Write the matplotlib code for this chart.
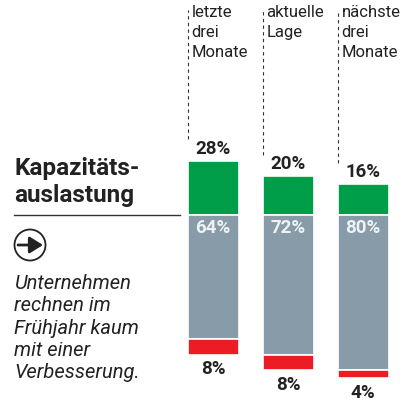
import matplotlib.pyplot as plt
from matplotlib.patches import Circle

# data
periods = ["letzte\ndrei\nMonate", "aktuelle\nLage", "nächste\ndrei\nMonate"]
higher = [28, 20, 16]
same = [64, 72, 80]
lower = [8, 8, 4]

title_lines = ["Kapazitäts-", "auslastung"]
note_lines = ["Unternehmen", "rechnen im", "Frühjahr kaum", "mit einer", "Verbesserung."]

GREEN = "#009e49"
GRAY = "#879ca8"
RED = "#ec1c24"
DARK = "#222222"

plt.rcParams["font.family"] = ["Roboto", "DejaVu Sans"]

W, H = 401, 403
fig = plt.figure(figsize=(W / 100, H / 100), dpi=100)

# bar axes: x in category units (75 px apart), y in percent (1.94 px per %)
px_per_pct = 1.94
base_px = 215
ax = fig.add_axes([0, 0, 1, 1])
ax.set_xlim(-213 / 75, (W - 213) / 75)
ax.set_ylim(-(H - base_px) / px_per_pct, base_px / px_per_pct)
ax.axis("off")
ax.patch.set_visible(False)

x = list(range(len(periods)))
width = 0.68
ax.bar(x, higher, width, color=GREEN, edgecolor="white", linewidth=1.2)
ax.bar(x, [-v for v in same], width, color=GRAY, edgecolor="white", linewidth=1.2)
ax.bar(x, [-v for v in lower], width, bottom=[-v for v in same], color=RED,
       edgecolor="white", linewidth=1.2)

top_y = ax.get_ylim()[1]
for i in x:
    left = i - width / 2
    ax.plot([left, left], [higher[i] + 11, top_y - 5], color="#333333",
            lw=0.8, ls=(0, (3, 3)))
    ax.annotate(f"{higher[i]}%", (i, higher[i]), xytext=(0, 8.5),
                textcoords="offset points", ha="center", va="center",
                fontsize=13.5, fontweight="bold", color=DARK)
    ax.annotate(f"{same[i]}%", (i, 0), xytext=(0, -9.5),
                textcoords="offset points", ha="center", va="center",
                fontsize=13.5, fontweight="bold", color="#eef2f4")
    ax.annotate(f"{lower[i]}%", (i, -(same[i] + lower[i])), xytext=(0, -10.5),
                textcoords="offset points", ha="center", va="center",
                fontsize=13.5, fontweight="bold", color=DARK)
    # header text next to the dashed line
    for j, line in enumerate(periods[i].split("\n")):
        ax.annotate(line, (left, top_y), xytext=(4, -17 - j * 20),
                    xycoords="data", textcoords="offset pixels",
                    ha="left", va="baseline", fontsize=12, color=DARK)

# overlay in pixel coordinates for the left-hand text block
ov = fig.add_axes([0, 0, 1, 1])
ov.set_xlim(0, W)
ov.set_ylim(H, 0)
ov.axis("off")
ov.patch.set_visible(False)

for j, line in enumerate(title_lines):
    ov.text(14, 175 + j * 27, line, ha="left", va="baseline",
            fontsize=17.5, fontweight="bold", color=DARK)
ov.plot([14, 180], [215, 215], color="#333333", lw=1)

ov.add_patch(Circle((30, 245), 15.5, fill=False, ec=DARK, lw=1.3))
ov.annotate("", xy=(43, 245), xytext=(18, 245),
            arrowprops=dict(arrowstyle="-|>,head_length=0.8,head_width=0.5",
                            color=DARK, lw=2.0, shrinkA=0, shrinkB=0))

for j, line in enumerate(note_lines):
    ov.text(14, 289 + j * 22.3, line, ha="left", va="baseline",
            fontsize=14.5, style="italic", color=DARK)

fig.savefig("out.png", dpi=100)
